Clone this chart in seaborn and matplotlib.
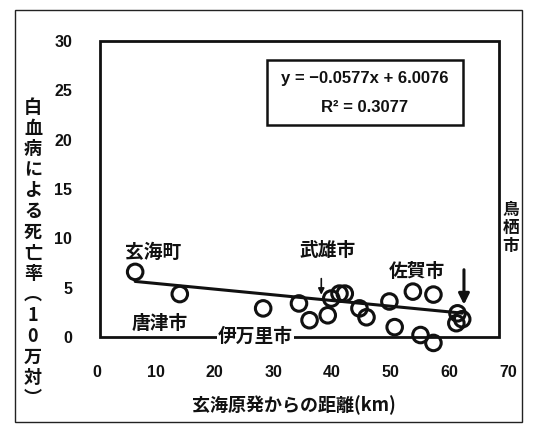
import matplotlib
matplotlib.use("Agg")
import matplotlib.pyplot as plt
from matplotlib.patches import Rectangle
import numpy as np
import pandas as pd
import seaborn as sns

# ---- data ----
distance_km = [6.5, 14.1, 28.3, 34.4, 36.2, 39.3, 39.9, 41.3, 42.2, 44.7, 45.9,
               49.8, 50.7, 53.8, 55.1, 57.3, 57.3, 61.4, 61.2, 62.2]
death_rate = [6.6, 4.35, 2.9, 3.4, 1.7, 2.2, 3.9, 4.4, 4.4, 2.9, 2.0,
              3.6, 1.0, 4.6, 0.2, 4.3, -0.6, 2.4, 1.4, 1.8]
slope = -0.0577
intercept = 6.0076
r_squared = 0.3077
x_ticks = [0, 10, 20, 30, 40, 50, 60, 70]
y_ticks = [0, 5, 10, 15, 20, 25, 30]
city_labels = ["玄海町", "唐津市", "伊万里市", "武雄市", "佐賀市"]
city_label_x = [9.5, 10.7, 27.0, 39.3, 54.5]
city_label_y = [8.6, 1.4, 0.1, 8.8, 6.6]
x_label = "玄海原発からの距離(km)"
y_label = "白血病による死亡率︵10万対︶"
side_label = "鳥栖市"

sns.set_theme(style="white")
plt.rcParams['font.family'] = ['Noto Sans CJK JP', 'DejaVu Sans']

W, H = 539, 424
fig = plt.figure(figsize=(W / 100, H / 100), dpi=100)

def fx(px):
    return px / W

def fy(py):
    return 1 - py / H

# axes: x 0 at px 97, 70 at px 508 ; y 0 at py 337, 30 at py 41
ax = fig.add_axes([fx(97), fy(337), (508 - 97) / W, (337 - 41) / H])
ax.set_xlim(0, 70)
ax.set_ylim(0, 30)
for s in ax.spines.values():
    s.set_visible(False)
ax.set_facecolor("white")

# plot frame box (slightly inside the axes like in the reference)
ax.add_patch(Rectangle((0.5, 0), 68.0, 30, fill=False, edgecolor="#111111",
                       lw=2.0, zorder=1, clip_on=False))

df = pd.DataFrame({"x": distance_km, "y": death_rate})
sns.scatterplot(data=df, x="x", y="y", ax=ax, s=125, facecolor="none",
                edgecolor="#111111", linewidth=2.2, zorder=4, clip_on=False)
for c in ax.collections:
    c.set_clip_on(False)

xs = np.array([min(distance_km), max(distance_km)])
line_df = pd.DataFrame({"x": xs, "y": slope * xs + intercept})
sns.lineplot(data=line_df, x="x", y="y", ax=ax, color="#111111", lw=2.2, zorder=3)

ax.set_xticks(x_ticks)
ax.set_yticks(y_ticks)
ax.set_xticklabels([str(t) for t in x_ticks], fontfamily="Liberation Sans",
                   fontweight="bold", fontsize=11.5, color="#111111")
ax.set_yticklabels([str(t) for t in y_ticks], fontfamily="Liberation Sans",
                   fontweight="bold", fontsize=11.5, color="#111111")
ax.tick_params(axis="both", length=0)
ax.tick_params(axis="x", pad=20)
ax.tick_params(axis="y", pad=18)
ax.set_xlabel("")
ax.set_ylabel("")

# city labels
for lab, lx, ly in zip(city_labels, city_label_x, city_label_y):
    ax.text(lx, ly, lab, ha="center", va="center", fontsize=13.5,
            fontweight="bold", color="#111111", zorder=5,
            bbox=dict(facecolor="white", edgecolor="none", pad=0.5) if lab == "伊万里市" else None)

# arrows
ax.annotate("", xy=(38.2, 4.0), xytext=(38.2, 6.2),
            arrowprops=dict(arrowstyle="-|>", color="#111111", lw=1.2,
                            mutation_scale=9))
ax.annotate("", xy=(62.5, 3.0), xytext=(62.5, 7.1),
            arrowprops=dict(arrowstyle="-|>", color="#111111", lw=2.2,
                            mutation_scale=16))

# equation box
fig.patches.append(Rectangle((fx(267), fy(125)), (463 - 267) / W, (125 - 60) / H,
                             transform=fig.transFigure, fill=False,
                             edgecolor="#111111", lw=1.8))
fig.text(fx(365), fy(79), f"y = \u22120.0577x + {intercept:.4f}", ha="center",
         va="center", fontsize=12, fontweight="bold", fontfamily="Liberation Sans",
         color="#111111")
fig.text(fx(365), fy(107), f"R\u00b2 = {r_squared:.4f}", ha="center", va="center",
         fontsize=12, fontweight="bold", fontfamily="Liberation Sans", color="#111111")

# axis labels
fig.text(fx(294), fy(405), x_label, ha="center", va="center", fontsize=13,
         fontweight="bold", color="#111111")
fig.text(fx(33), fy(253), "\n".join(y_label), ha="center", va="center",
         fontsize=13, fontweight="bold", color="#111111", linespacing=1.12)
fig.text(fx(511), fy(228), "\n".join(side_label), ha="center", va="center",
         fontsize=12, fontweight="bold", color="#111111", linespacing=1.0)

# outer frame
fig.patches.append(Rectangle((fx(15), fy(422)), (522 - 15) / W, (422 - 10) / H,
                             transform=fig.transFigure, fill=False,
                             edgecolor="#222222", lw=1.0))

fig.savefig("out.png", dpi=100, facecolor="white")
